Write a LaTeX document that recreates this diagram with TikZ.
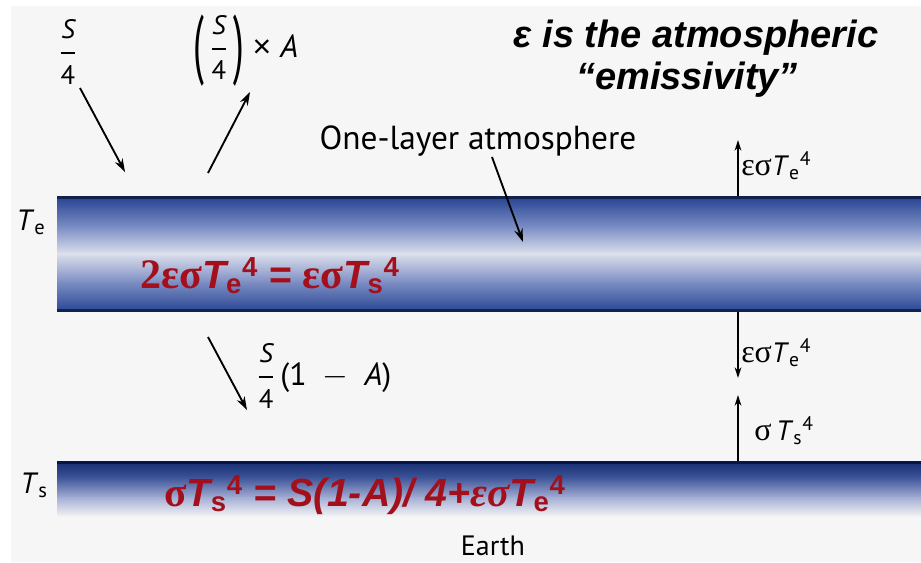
\documentclass[tikz,border=0pt]{standalone}
\usepackage{amsmath}
\usepackage{graphicx}
\usepackage{fontspec}
\setmainfont{PT Sans}
\newfontfamily\grk{Liberation Serif}
\newfontfamily\hel{Liberation Sans}
\usetikzlibrary{arrows.meta}
\definecolor{bg}{HTML}{F6F6F6}
\definecolor{atmdark}{HTML}{14214A}
\definecolor{atmA}{HTML}{2A4795}
\definecolor{atmB}{HTML}{7E8FC4}
\definecolor{atmC}{HTML}{DCE0EC}
\definecolor{erdark}{HTML}{081549}
\definecolor{erA}{HTML}{1A2F74}
\definecolor{erB}{HTML}{3E5599}
\definecolor{erC}{HTML}{A5AFD4}
\definecolor{eqred}{HTML}{A3101C}
\newcommand\fs[1]{\fontsize{#1}{#1}\selectfont}
\newcommand\fr[2]{\genfrac{}{}{1.1pt}{0}{\text{\fs{20pt}#1}}{\text{\fs{20pt}#2}}}
\newcommand\su[2]{\textsubscript{#1}\textsuperscript{#2}}
\newcommand\tallp[1]{\raisebox{-0.4em}{\scalebox{1.2}[2.4]{#1}}}
\tikzset{
  lab/.style={inner sep=0pt, font=\fs{24pt}},
  rlab/.style={inner sep=0pt, anchor=west, font=\fs{21pt}},
  arr/.style={line width=1.4pt, -{Stealth[length=10pt,width=6.5pt]}},
  varr/.style={line width=1.1pt, -{Stealth[length=8pt,width=5pt]}},
  redeq/.style={inner sep=0pt, text=eqred, font=\fs{29.5pt}},
}
\begin{document}
\begin{tikzpicture}[x=0.75pt,y=-0.75pt]
\useasboundingbox (0,0) rectangle (921,562);
\fill[white] (0,0) rectangle (921,562);
\fill[bg] (11,6) rectangle (921,562);
% atmosphere band
\shade[top color=atmA, bottom color=atmB] (57,198) rectangle (921,228);
\shade[top color=atmB, bottom color=atmC] (57,227.5) rectangle (921,254);
\shade[top color=atmC, bottom color=atmB] (57,253.5) rectangle (921,282);
\shade[top color=atmB, bottom color=atmA] (57,281.5) rectangle (921,311);
\draw[atmdark, line width=2.2pt] (57,197.5) -- (921,197.5);
\draw[atmdark, line width=2.2pt] (57,310.5) -- (921,310.5);
% earth band
\shade[top color=erA, bottom color=erB] (57,463) rectangle (921,478);
\shade[top color=erB, bottom color=erC] (57,477.5) rectangle (921,498);
\shade[top color=erC, bottom color=bg] (57,497.5) rectangle (921,517);
\draw[erdark, line width=2.2pt] (57,462.5) -- (921,462.5);

% labels
\node[lab] (s4) at (68,52) {$\fr{\itshape S}{4}$};
\node[lab] (s4a) at (246,51) {\tallp{(}\hspace{4pt}$\fr{\itshape S}{4}$\hspace{4pt}\tallp{)}\;{\hel ×}\;\textit{A}};
\node[lab, font=\fs{25pt}] (one) at (478,141) {One-layer atmosphere};
\node[inner sep=0pt, anchor=base, font=\hel\bfseries\itshape\fs{28.5pt}] (t1) at (696,47) {ε is the atmospheric};
\node[inner sep=0pt, anchor=base, font=\hel\bfseries\itshape\fs{28.5pt}] (t2) at (687,89) {“emissivity”};
\node[lab, anchor=base west, font=\fs{22pt}] (te) at (16,230) {\textit{T}\textsubscript{e}};
\node[lab, anchor=base west, font=\fs{22pt}] (ts) at (20,493) {\textit{T}\textsubscript{s}};
\node[lab, anchor=west] (s41a) at (257,376) {$\fr{\itshape S}{4}$\,(1\enspace$-$\enspace\textit{A})};
\node[rlab] (r1) at (741,166) {{\grk\fs{24pt}εσ}\textit{T}\su{e}{4}};
\node[rlab] (r2) at (741,353) {{\grk\fs{24pt}εσ}\textit{T}\su{e}{4}};
\node[rlab] (r3) at (754,431) {{\grk\fs{24pt}σ}\,\textit{T}\su{s}{4}};
\node[lab, font=\fs{21pt}] (earth) at (493,546) {Earth};
% red equations
\node[redeq] (eq1) at (270,276) {{\grk\bfseries\fs{31.5pt}2εσ}{\hel\bfseries\itshape T}{\hel\bfseries\su{e}{4} = }{\grk\bfseries\fs{31.5pt}εσ}{\hel\bfseries\itshape T}{\hel\bfseries\su{s}{4}}};
\node[redeq] (eq2) at (365,495) {{\grk\bfseries\fs{31pt}σ}{\hel\bfseries\itshape T}{\hel\bfseries\su{s}{4} }{\hel\bfseries\itshape = S(1-A)/ 4+}{\grk\bfseries\itshape\fs{31pt}εσ}{\hel\bfseries\itshape T}{\hel\bfseries\su{e}{4}}};

% arrows
\coordinate (a1s) at (80,88); \coordinate (a1e) at (125,172);
\coordinate (a2s) at (208,173); \coordinate (a2e) at (250,92);
\coordinate (ps) at (492,157); \coordinate (pe) at (523,242);
\coordinate (a3s) at (208,337); \coordinate (a3e) at (247,410);
\coordinate (v1s) at (738,196); \coordinate (v1e) at (738,140);
\coordinate (v2s) at (738,312); \coordinate (v2e) at (738,378);
\coordinate (v3s) at (738,461); \coordinate (v3e) at (738,395);
\draw[arr] (a1s) -- (a1e);
\draw[arr] (a2s) -- (a2e);
\draw[arr] (ps) -- (pe);
\draw[arr] (a3s) -- (a3e);
\draw[varr] (v1s) -- (v1e);
\draw[varr] (v2s) -- (v2e);
\draw[varr] (v3s) -- (v3e);
\end{tikzpicture}
\end{document}
